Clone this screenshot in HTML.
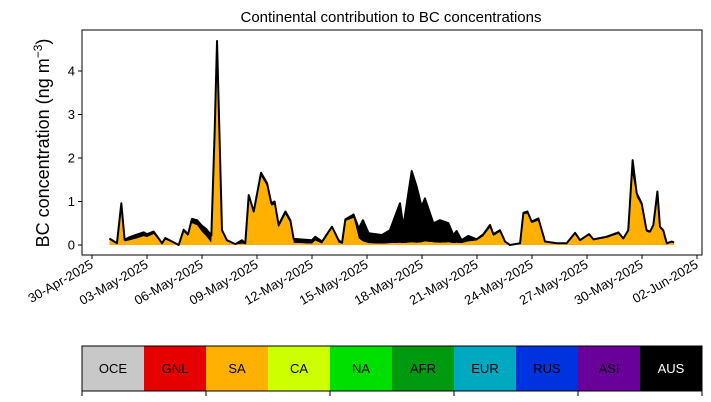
<!DOCTYPE html>
<html><head><meta charset="utf-8"><style>
body{margin:0;background:#fff;}
svg{display:block;font-family:"Liberation Sans",sans-serif;}
</style></head><body>
<svg id="chart" width="711" height="402" viewBox="0 0 711 402"></svg>
<script>
const days=[0.95,1.36,1.60,1.78,2.0,2.45,2.82,3.0,3.36,3.82,4.0,4.73,5.0,5.24,5.45,5.73,6.0,6.22,6.51,6.69,6.82,6.95,7.09,7.36,7.82,8.18,8.36,8.55,8.82,9.22,9.55,9.78,9.96,10.18,10.55,10.82,11.0,12.0,12.18,12.55,13.09,13.45,13.64,13.82,14.27,14.55,14.78,15.09,15.82,16.25,16.8,16.98,17.44,17.71,17.98,18.16,18.62,18.98,19.44,19.71,19.89,20.16,20.53,20.98,21.35,21.71,21.89,22.25,22.53,22.8,23.35,23.53,23.75,23.98,24.35,24.71,25.35,25.89,26.35,26.62,27.11,27.35,28.07,28.71,28.98,29.25,29.49,29.71,29.98,30.25,30.44,30.62,30.84,30.98,31.16,31.35,31.62,31.75];
const totalBC=[.15,.04,.96,.12,.17,.24,.29,.25,.31,.04,.16,0,.35,.25,.6,.57,.44,.37,.22,2.6,4.69,2.6,.34,.11,.02,.11,.04,1.15,.77,1.66,1.42,.96,1.0,.46,.77,.57,.14,.11,.19,.08,.42,.11,.05,.59,.7,.38,.57,.27,.23,.34,.96,.42,1.7,1.34,.88,1.07,.5,.57,.5,.23,.32,.11,.21,.13,.25,.46,.25,.34,.08,0,.04,.74,.77,.54,.61,.08,.04,.04,.28,.11,.25,.13,.19,.29,.15,.34,1.95,1.19,.96,.34,.31,.46,1.23,.42,.34,.04,.08,.06];
const saBC=[.12,.02,.90,.08,.10,.15,.20,.18,.25,.02,.12,0,.30,.20,.5,.45,.30,.20,.05,2.5,4.2,2.4,.30,.08,.01,.03,.02,1.1,.72,1.58,1.35,.9,.93,.40,.70,.50,.05,.03,.10,.03,.38,.05,.03,.55,.62,.15,.08,.04,.03,.04,.05,.04,.06,.05,.06,.08,.06,.05,.06,.04,.05,.04,.08,.10,.20,.40,.20,.30,.06,0,.03,.70,.72,.5,.56,.06,.03,.03,.25,.09,.22,.11,.16,.25,.12,.30,1.6,1.1,.9,.3,.28,.42,1.0,.38,.3,.03,.06,.05];
const yTicks=[0,1,2,3,4];
const xTickLabels=["30-Apr-2025","03-May-2025","06-May-2025","09-May-2025","12-May-2025","15-May-2025","18-May-2025","21-May-2025","24-May-2025","27-May-2025","30-May-2025","02-Jun-2025"];
const regions=["OCE","GNL","SA","CA","NA","AFR","EUR","RUS","ASI","AUS"];
const regionColors=["#c8c8c8","#e60000","#ffb000","#ccff00","#00e000","#009a10","#00a8c0","#0033e0","#6a0099","#000000"];

const NS="http://www.w3.org/2000/svg";
const svg=document.getElementById('chart');
const L=82,R=702,T=30,B=255;
const xS=d=>92+d*18.333;
const yS=v=>245-v*43.5;
function mk(tag,attrs,parent){const e=document.createElementNS(NS,tag);for(const k in attrs)e.setAttribute(k,attrs[k]);(parent||svg).appendChild(e);return e;}

// areas
let saPath="M"+xS(days[0])+","+yS(0);
days.forEach((d,i)=>saPath+="L"+xS(d)+","+yS(saBC[i]));
saPath+="L"+xS(days[days.length-1])+","+yS(0)+"Z";
let ausPath="M"+xS(days[0])+","+yS(saBC[0]);
days.forEach((d,i)=>ausPath+="L"+xS(d)+","+yS(totalBC[i]));
for(let i=days.length-1;i>=0;i--)ausPath+="L"+xS(days[i])+","+yS(saBC[i]);
ausPath+="Z";
const aus=mk('path',{d:ausPath,fill:"#000"});


const sa=mk('path',{d:saPath,fill:"#ffb000"});


let tl="";days.forEach((d,i)=>tl+=(i?"L":"M")+xS(d)+","+yS(totalBC[i]));
const line=mk('path',{d:tl,fill:"none",stroke:"#000","stroke-width":2,"stroke-linejoin":"round"});



// frame
const fr=mk('rect',{x:L,y:T,width:R-L,height:B-T,fill:"none",stroke:"#000","stroke-width":1});



yTicks.forEach(v=>{
  mk('line',{x1:L-4,x2:L,y1:yS(v),y2:yS(v),stroke:"#000"});
  const t=mk('text',{x:L-7,y:yS(v)+4.5,"text-anchor":"end","font-size":13});
  t.textContent=v;
  
  
});
xTickLabels.forEach((s,i)=>{
  const x=xS(i*3);
  mk('line',{x1:x,x2:x,y1:B,y2:B+4,stroke:"#000"});
  const t=mk('text',{x:x+2,y:B+12,"text-anchor":"end","font-size":13,transform:`rotate(-30 ${x+2} ${B+12})`});
  t.textContent=s;
  
  
});
const title=mk('text',{x:391,y:22,"text-anchor":"middle","font-size":15});
title.textContent="Continental contribution to BC concentrations";


const yt=mk('text',{x:0,y:0,"text-anchor":"middle","font-size":18,transform:"translate(49 143) rotate(-90)"});
yt.innerHTML='BC concentration (ng m<tspan dy="-7" font-size="12">−3</tspan><tspan dy="7">)</tspan>';



// colorbar
const cw=(R-L)/regions.length;
regions.forEach((r,i)=>{
  const c=mk('rect',{x:L+i*cw,y:346,width:cw+0.5,height:45,fill:regionColors[i]});
  
  
  const t=mk('text',{x:L+i*cw+cw/2,y:373,"text-anchor":"middle","font-size":13,fill:r==="AUS"?"#fff":"#000"});
  t.textContent=r;
  
  
});
const cb=mk('rect',{x:L,y:346,width:R-L,height:45,fill:"none",stroke:"#000","stroke-width":1});


for(let i=0;i<=regions.length;i+=2)mk('line',{x1:L+i*cw,x2:L+i*cw,y1:391,y2:396,stroke:"#000"});
</script>
</body></html>
